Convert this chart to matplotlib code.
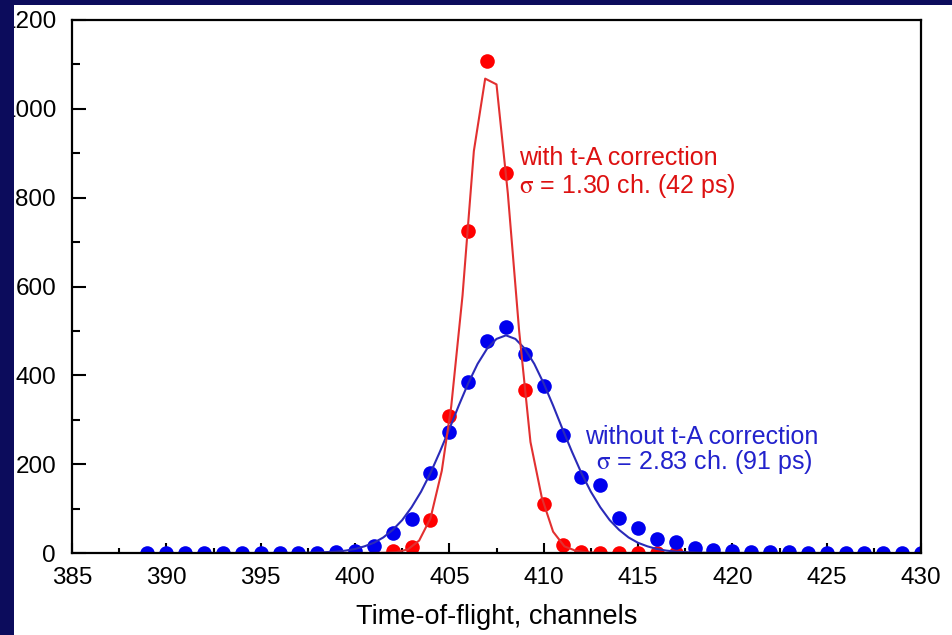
import matplotlib
matplotlib.use("Agg")
import matplotlib.pyplot as plt
from matplotlib.patches import Rectangle
from matplotlib.ticker import MultipleLocator

plt.rcParams['font.family'] = ['Liberation Sans', 'DejaVu Sans']
plt.rcParams['mathtext.fontset'] = 'stix'

# measured points, with t-A correction (red)
ch_red = [402, 403, 404, 405, 406, 407, 408, 409, 410, 411, 412, 413, 414, 415, 416, 417]
cnt_red = [4, 13, 74, 309, 726, 1108, 855, 366, 110, 18, 3, 1, 1, 1, 1, 1]

# measured points, without t-A correction (blue)
ch_blue = list(range(389, 431))
cnt_blue = [1, 1, 1, 1, 1, 1, 1, 1, 1, 1, 2, 4, 16, 44, 77, 181, 272, 386, 477, 509,
            447, 376, 265, 170, 152, 78, 57, 31, 25, 12, 7, 4, 3, 2, 2, 1, 1, 1, 1, 1, 1, 1]

# fitted curves
fit_red_x = [398, 400, 401.0, 401.6, 402.2, 402.8, 403.4, 404.0, 404.6, 405.1, 405.7, 406.3,
             406.9, 407.5, 408.1, 408.7, 409.3, 409.9, 410.5, 411.1, 411.7, 412.3, 412.9,
             413.5, 415, 418]
fit_red_y = [0, 0, 0, 0.5, 2, 8, 28, 78, 185, 330, 580, 905,
             1068, 1055, 810, 500, 250, 125, 48, 15, 5, 1.5, 0.5,
             0, 0, 0]

fit_blue_x = [392, 395, 397, 398, 399, 399.5, 400, 400.5, 401, 401.5, 402, 402.5, 403, 403.5,
              404, 404.5, 405, 405.5, 406, 406.5, 407, 407.5, 408, 408.5, 409, 409.5,
              410, 410.5, 411, 411.5, 412, 412.5, 413, 413.5, 414, 414.5, 415, 415.5,
              416, 416.5, 417, 418, 419, 422, 425]
fit_blue_y = [0, 0, 0.25, 1, 3.1, 5.4, 9, 15, 23, 35, 52, 74, 103, 138,
              180, 228, 279, 332, 382, 426, 460, 482, 490, 482, 460, 426,
              382, 332, 279, 228, 180, 138, 103, 74, 52, 35, 23, 15,
              9, 5.4, 3.1, 1, 0.25, 0, 0]

navy = '#0c0c5c'
red = '#ff0000'
blue = '#0000ee'

fig = plt.figure(figsize=(9.53, 6.35), dpi=100)
fig.patch.set_facecolor(navy)
fig.patches.append(Rectangle((12 / 953, 0), 941 / 953, 630 / 635, transform=fig.transFigure,
                             facecolor='white', edgecolor='none', zorder=-1))

ax = fig.add_axes([72 / 953, 82 / 635, 849 / 953, 533 / 635])
ax.set_facecolor('white')

ax.plot(ch_red, cnt_red, 'o', color=red, ms=10.5, mec='none', zorder=2)
ax.plot(ch_blue, cnt_blue, 'o', color=blue, ms=10.5, mec='none', zorder=2.1)
ax.plot(fit_blue_x, fit_blue_y, '-', color='#2a2ab8', lw=1.5, zorder=2.2)
ax.plot(fit_red_x, fit_red_y, '-', color='#e23030', lw=1.5, zorder=2.3)

ax.set_xlim(385, 430)
ax.set_ylim(0, 1200)
ax.xaxis.set_major_locator(MultipleLocator(5))
ax.xaxis.set_minor_locator(MultipleLocator(2.5))
ax.yaxis.set_major_locator(MultipleLocator(200))
ax.yaxis.set_minor_locator(MultipleLocator(100))

ax.tick_params(axis='x', which='major', direction='in', length=7, width=1.5, pad=10, labelsize=17.5)
ax.tick_params(axis='x', which='minor', direction='in', length=3.6, width=1.5)
ax.tick_params(axis='y', which='major', direction='in', length=10, width=1.5, pad=11.5, labelsize=17.5)
ax.tick_params(axis='y', which='minor', direction='in', length=5.8, width=1.5)
for sp in ax.spines.values():
    sp.set_linewidth(1.6)

ax.set_xlabel('Time-of-flight, channels', fontsize=19.5, labelpad=11)

sig = r'$\mathrm{\sigma}$'
ax.text(408.69, 890, 'with t-A correction', color='#dd1111', fontsize=18, va='center', ha='left')
ax.text(408.69, 826, sig + ' = 1.30 ch. (42 ps)', color='#dd1111', fontsize=18, va='center', ha='left')
ax.text(412.19, 261, 'without t-A correction', color='#2222cc', fontsize=18, va='center', ha='left')
ax.text(412.77, 205, sig + ' = 2.83 ch. (91 ps)', color='#2222cc', fontsize=18, va='center', ha='left')

# dark frame on the left edge, drawn over the labels like in the source slide
fig.patches.append(Rectangle((0, 0), 14 / 953, 1, transform=fig.transFigure,
                             facecolor=navy, edgecolor='none', zorder=10))
fig.patches.append(Rectangle((0, 630 / 635), 1, 5 / 635, transform=fig.transFigure,
                             facecolor=navy, edgecolor='none', zorder=10))

fig.savefig('out.png', dpi=100, facecolor=fig.get_facecolor())
